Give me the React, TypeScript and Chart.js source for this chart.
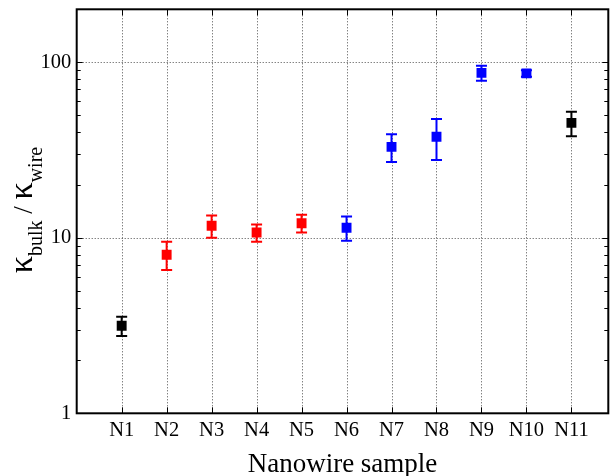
import React, { useEffect, useRef } from "react";
import { Chart, registerables } from "chart.js";

Chart.register(...registerables);

const categories = ["N1", "N2", "N3", "N4", "N5", "N6", "N7", "N8", "N9", "N10", "N11"];
const values = [3.15, 8.0, 11.7, 10.7, 12.1, 11.4, 32.9, 37.6, 86.9, 86.3, 45.1];
const errLow = [2.76, 6.54, 10.0, 9.48, 10.7, 9.6, 27.0, 27.7, 78.3, 82.5, 37.9];
const errHigh = [3.55, 9.48, 13.4, 11.9, 13.5, 13.2, 38.8, 47.4, 95.3, 90.0, 52.1];
const colors = ["#000000", "#ff0000", "#ff0000", "#ff0000", "#ff0000", "#0000ff", "#0000ff", "#0000ff", "#0000ff", "#0000ff", "#000000"];
const yTickValues = [1, 10, 100];
const yMin = 1;
const yMax = 200;
const xTitle = "Nanowire sample";
const yTitleParts = [
  { text: "κ", sub: false, slash: false },
  { text: "bulk", sub: true, slash: false },
  { text: " / ", sub: false, slash: true },
  { text: "κ", sub: false, slash: false },
  { text: "wire", sub: true, slash: false },
];

const SERIF = '"Liberation Serif", "DejaVu Serif", serif';

const zeroPad = (s: any) => {
  s.paddingTop = 0;
  s.paddingBottom = 0;
  s.paddingLeft = 0;
  s.paddingRight = 0;
};

const decorPlugin = {
  id: "decor",
  beforeDatasetsDraw(chart: any) {
    const { ctx, chartArea, scales } = chart;
    const { left, right, top, bottom } = chartArea;
    const x = scales.x;
    const y = scales.y;
    ctx.save();
    ctx.setLineDash([1, 2]);
    ctx.strokeStyle = "rgba(0,0,0,0.7)";
    ctx.lineWidth = 1;
    categories.forEach((_, i) => {
      const px = Math.round(x.getPixelForValue(i + 1)) + 0.5;
      ctx.beginPath();
      ctx.moveTo(px, top);
      ctx.lineTo(px, bottom);
      ctx.stroke();
    });
    yTickValues.forEach((v) => {
      if (v <= yMin) return;
      const py = Math.round(y.getPixelForValue(v)) + 0.5;
      ctx.beginPath();
      ctx.moveTo(left, py);
      ctx.lineTo(right, py);
      ctx.stroke();
    });
    ctx.setLineDash([]);
    ctx.lineWidth = 2;
    values.forEach((_, i) => {
      const px = x.getPixelForValue(i + 1);
      const yl = y.getPixelForValue(errLow[i]);
      const yh = y.getPixelForValue(errHigh[i]);
      ctx.strokeStyle = colors[i];
      ctx.beginPath();
      ctx.moveTo(px, yl);
      ctx.lineTo(px, yh);
      ctx.moveTo(px - 5.5, yl);
      ctx.lineTo(px + 5.5, yl);
      ctx.moveTo(px - 5.5, yh);
      ctx.lineTo(px + 5.5, yh);
      ctx.stroke();
    });
    ctx.restore();
  },
  afterDraw(chart: any) {
    const { ctx, chartArea, scales } = chart;
    const { left, right, top, bottom } = chartArea;
    const x = scales.x;
    const y = scales.y;
    ctx.save();
    ctx.strokeStyle = "#000";
    ctx.lineWidth = 1;
    ctx.beginPath();
    yTickValues.forEach((d) => {
      for (let m = 1; m <= 9; m++) {
        const v = m * d;
        if (v > yMax || v < yMin) continue;
        const py = Math.round(y.getPixelForValue(v)) + 0.5;
        const len = m === 1 ? 6 : 4;
        ctx.moveTo(left, py);
        ctx.lineTo(left + len, py);
        ctx.moveTo(right, py);
        ctx.lineTo(right - len, py);
      }
    });
    categories.forEach((_, i) => {
      const px = Math.round(x.getPixelForValue(i + 1)) + 0.5;
      ctx.moveTo(px, bottom);
      ctx.lineTo(px, bottom - 6);
      ctx.moveTo(px, top);
      ctx.lineTo(px, top + 6);
    });
    ctx.stroke();
    ctx.lineWidth = 2;
    ctx.strokeRect(left, top, right - left, bottom - top);

    ctx.fillStyle = "#000";
    ctx.font = `27px ${SERIF}`;
    ctx.textAlign = "center";
    ctx.textBaseline = "alphabetic";
    ctx.fillText(xTitle, (left + right) / 2, 472);

    const mainFont = `34px ${SERIF}`;
    const slashFont = `27px ${SERIF}`;
    const subFont = `20px ${SERIF}`;
    const fontFor = (p: any) => (p.sub ? subFont : p.slash ? slashFont : mainFont);
    let total = 0;
    const widths = yTitleParts.map((p) => {
      ctx.font = fontFor(p);
      const w = ctx.measureText(p.text).width;
      total += w;
      return w;
    });
    ctx.translate(32, 210);
    ctx.rotate(-Math.PI / 2);
    ctx.textAlign = "left";
    let cx = -total / 2;
    yTitleParts.forEach((p, i) => {
      ctx.font = fontFor(p);
      ctx.fillText(p.text, cx, p.sub ? 10 : 0);
      cx += widths[i];
    });
    ctx.restore();
  },
};

export default function App() {
  const canvasRef = useRef<HTMLCanvasElement | null>(null);

  useEffect(() => {
    if (!canvasRef.current) return;
    const chart = new Chart(canvasRef.current, {
      type: "scatter",
      data: {
        datasets: [
          {
            data: values.map((v, i) => ({ x: i + 1, y: v })),
            backgroundColor: colors,
            borderColor: colors,
            pointStyle: "rect",
            pointRadius: 7,
            pointHoverRadius: 7,
            pointBorderWidth: 0,
            showLine: false,
          },
        ],
      },
      options: {
        animation: false,
        responsive: false,
        devicePixelRatio: 1,
        layout: { autoPadding: false, padding: { top: 9.3, right: 2.7, left: 0, bottom: 0 } },
        plugins: { legend: { display: false }, tooltip: { enabled: false } },
        scales: {
          x: {
            type: "linear",
            min: 0,
            max: 11.82,
            grid: { display: false, drawTicks: false, tickLength: 0 },
            border: { display: false },
            afterBuildTicks: (s: any) => {
              s.ticks = categories.map((_, i) => ({ value: i + 1 }));
            },
            afterFit: (s: any) => {
              s.height = 62.7;
              zeroPad(s);
            },
            ticks: {
              autoSkip: false,
              maxRotation: 0,
              padding: 5,
              color: "#000",
              font: { family: SERIF, size: 20.5 },
              callback: (v: any) => categories[Math.round(Number(v)) - 1] ?? "",
            },
          },
          y: {
            type: "logarithmic",
            min: yMin,
            max: yMax,
            grid: { display: false, drawTicks: false, tickLength: 0 },
            border: { display: false },
            afterBuildTicks: (s: any) => {
              s.ticks = yTickValues.map((v) => ({ value: v }));
            },
            afterFit: (s: any) => {
              s.width = 76.7;
              zeroPad(s);
            },
            ticks: {
              padding: 5.5,
              color: "#000",
              font: { family: SERIF, size: 20.5 },
              callback: (v: any) => String(v),
            },
          },
        },
      },
      plugins: [decorPlugin],
    });
    return () => chart.destroy();
  }, []);

  return (
    <div style={{ position: "fixed", left: 0, top: 0, width: 611, height: 476, background: "#fff" }}>
      <canvas ref={canvasRef} width={611} height={476} style={{ display: "block", width: 611, height: 476 }} />
    </div>
  );
}
